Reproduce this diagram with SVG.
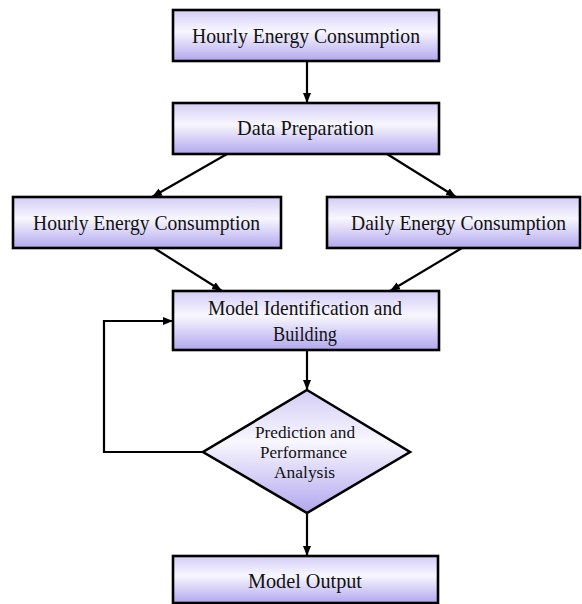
<svg xmlns="http://www.w3.org/2000/svg" width="582" height="604" viewBox="0 0 582 604">
<style>
.box{stroke:#000;stroke-width:2.6;fill:url(#g)}
.lbl{font-family:"Liberation Serif","Times New Roman",serif;font-size:21px;fill:#111}
.sm{font-family:"Liberation Serif","Times New Roman",serif;font-size:16px;fill:#111}
.con{stroke:#000;stroke-width:2.2;fill:none;marker-end:url(#ah)}
</style>
<defs>
<linearGradient id="g" x1="0" y1="0" x2="0" y2="1">
<stop offset="0" stop-color="#d3cdf6"/>
<stop offset="0.42" stop-color="#f8f7fe"/>
<stop offset="1" stop-color="#b1a7ee"/>
</linearGradient>
<marker id="ah" markerUnits="userSpaceOnUse" markerWidth="10" markerHeight="10" viewBox="0 0 10 10" refX="10" refY="5" orient="auto">
<path d="M0,1 L10,5 L0,9 Z" fill="#000"/>
</marker>
</defs>
<rect width="582" height="604" fill="#fff"/>
<g id="connectors">
<line class="con" x1="307" y1="61" x2="307" y2="103"/>
<line class="con" x1="227" y1="154" x2="152" y2="197"/>
<line class="con" x1="387" y1="154" x2="456" y2="197"/>
<line class="con" x1="154" y1="248" x2="222" y2="291"/>
<line class="con" x1="462" y1="248" x2="390" y2="291"/>
<line class="con" x1="307" y1="350" x2="307" y2="390"/>
<line class="con" x1="307" y1="513" x2="307" y2="556"/>
<polyline class="con" points="203,452 104,452 104,321 173,321"/>
</g>
<g id="n1"><rect class="box" x="173" y="10" width="266" height="51"/><text class="lbl" x="192" y="43" textLength="228" lengthAdjust="spacingAndGlyphs">Hourly Energy Consumption</text></g>
<g id="n2"><rect class="box" x="173" y="103" width="266" height="51"/><text class="lbl" x="237" y="135" textLength="137" lengthAdjust="spacingAndGlyphs">Data Preparation</text></g>
<g id="n3"><rect class="box" x="13" y="197" width="268" height="51"/><text class="lbl" x="33" y="230" textLength="227" lengthAdjust="spacingAndGlyphs">Hourly Energy Consumption</text></g>
<g id="n4"><rect class="box" x="327" y="197" width="253" height="51"/><text class="lbl" x="351" y="230" textLength="215" lengthAdjust="spacingAndGlyphs">Daily Energy Consumption</text></g>
<g id="n5"><rect class="box" x="173" y="291" width="266" height="59"/><text class="lbl" x="208" y="315" textLength="194" lengthAdjust="spacingAndGlyphs">Model Identification and</text><text class="lbl" x="273" y="341" textLength="64" lengthAdjust="spacingAndGlyphs">Building</text></g>
<g id="n6"><polygon class="box" points="307,390 410,452 307,513 203,452"/><text class="sm" x="255" y="438" textLength="100" lengthAdjust="spacingAndGlyphs">Prediction and</text><text class="sm" x="260" y="458" textLength="87" lengthAdjust="spacingAndGlyphs">Performance</text><text class="sm" x="274" y="478" textLength="61" lengthAdjust="spacingAndGlyphs">Analysis</text></g>
<g id="n7"><rect class="box" x="173" y="556" width="265" height="47"/><text class="lbl" x="248" y="588" textLength="114" lengthAdjust="spacingAndGlyphs">Model Output</text></g>
</svg>
